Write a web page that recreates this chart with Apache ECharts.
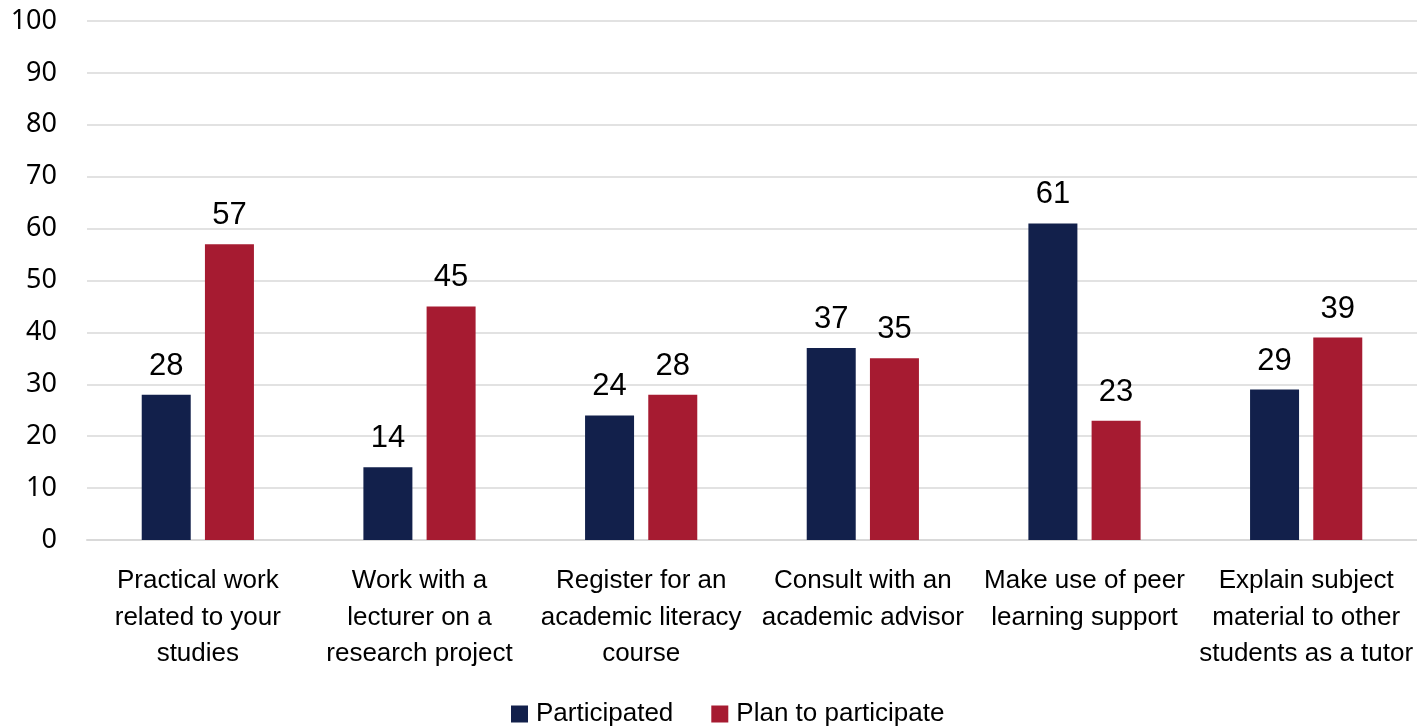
<!DOCTYPE html>
<html>
<head>
<meta charset="utf-8">
<script src="https://cdn.jsdelivr.net/npm/echarts@6/dist/echarts.min.js"></script>
<style>
  html, body { margin: 0; padding: 0; background: #fff; }
  #chart { width: 1417px; height: 728px; }
</style>
</head>
<body>
<div id="chart"></div>
<script>
// Activity categories (multi-line labels)
const categories = [
  'Practical work\nrelated to your\nstudies',
  'Work with a\nlecturer on a\nresearch project',
  'Register for an\nacademic literacy\ncourse',
  'Consult with an\nacademic advisor',
  'Make use of peer\nlearning support',
  'Explain subject\nmaterial to other\nstudents as a tutor'
];
const participated = [28, 14, 24, 37, 61, 29];
const planToParticipate = [57, 45, 28, 35, 23, 39];
const seriesNames = ['Participated', 'Plan to participate'];

const sans = '"Liberation Sans", Arial, sans-serif';
const labelStyle = {
  show: true,
  position: 'top',
  distance: 13,
  color: '#000',
  fontFamily: sans,
  fontSize: 31
};

const chart = echarts.init(document.getElementById('chart'));
chart.setOption({
  animation: false,
  grid: { left: 87, right: 0, top: 21, bottom: 188 },
  legend: {
    top: 696,
    left: 506,
    itemWidth: 17,
    itemHeight: 17,
    itemGap: 38,
    icon: 'rect',
    textStyle: { fontFamily: sans, fontSize: 26, color: '#000', padding: [0, 0, 0, 3] },
    data: seriesNames
  },
  xAxis: {
    type: 'category',
    data: categories,
    axisTick: { show: false },
    axisLine: { lineStyle: { color: '#d9d9d9', width: 2 } },
    axisLabel: {
      interval: 0,
      margin: 23,
      color: '#000',
      fontFamily: sans,
      fontSize: 26,
      lineHeight: 36.5
    }
  },
  yAxis: {
    type: 'value',
    min: 0,
    max: 100,
    interval: 10,
    axisLine: { show: false },
    axisTick: { show: false },
    splitLine: { lineStyle: { color: '#d9d9d9', width: 1.5 } },
    axisLabel: {
      margin: 30,
      color: '#000',
      fontFamily: '"Noto Sans", "Open Sans", sans-serif',
      fontSize: 27
    }
  },
  series: [
    {
      name: seriesNames[0],
      type: 'bar',
      data: participated,
      barWidth: 49,
      barGap: '29%',
      itemStyle: { color: '#12204b' },
      label: labelStyle
    },
    {
      name: seriesNames[1],
      type: 'bar',
      data: planToParticipate,
      barWidth: 49,
      barGap: '29%',
      itemStyle: { color: '#a61b31' },
      label: labelStyle
    }
  ]
});
</script>
</body>
</html>
